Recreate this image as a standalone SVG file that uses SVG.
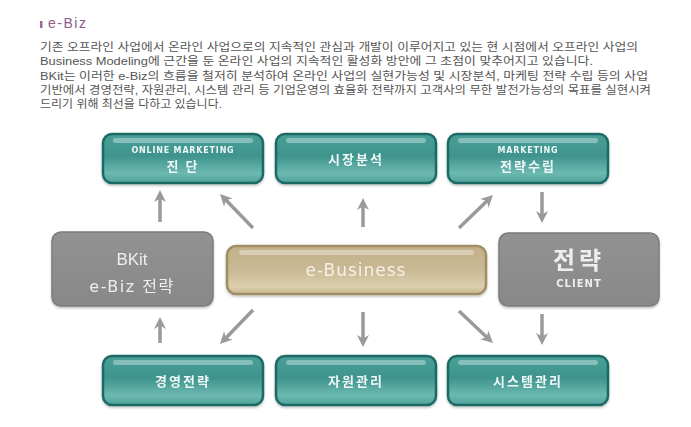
<svg xmlns="http://www.w3.org/2000/svg" width="691" height="427" viewBox="0 0 691 427">
<defs>
<linearGradient id="gTeal" x1="0" y1="0" x2="0" y2="1">
<stop offset="0" stop-color="#4a9f99"/>
<stop offset="0.45" stop-color="#3f948e"/>
<stop offset="0.8" stop-color="#6cb9b1"/>
<stop offset="1" stop-color="#4fa29b"/>
</linearGradient>
<linearGradient id="gBeige" x1="0" y1="0" x2="0" y2="1">
<stop offset="0" stop-color="#c2b18a"/>
<stop offset="0.5" stop-color="#c9b994"/>
<stop offset="0.85" stop-color="#ddd0ae"/>
<stop offset="1" stop-color="#c8b690"/>
</linearGradient>
<linearGradient id="gGray" x1="0" y1="0" x2="0" y2="1">
<stop offset="0" stop-color="#929292"/>
<stop offset="1" stop-color="#888888"/>
</linearGradient>
<marker id="ah" markerUnits="userSpaceOnUse" markerWidth="14" markerHeight="14" refX="6" refY="7" orient="auto">
<path d="M0,1 L12,7 L0,13 L3.5,7 Z" fill="#9a9a9a"/>
</marker>
<filter id="sh" x="-10%" y="-20%" width="120%" height="150%">
<feDropShadow dx="0" dy="1.5" stdDeviation="1.2" flood-color="#000" flood-opacity="0.25"/>
</filter>
</defs>
<style>
.teal{fill:url(#gTeal);stroke:#1e6a66;stroke-width:2.5}
.beige{fill:url(#gBeige);stroke:#a08e66;stroke-width:2.5}
.gray{fill:url(#gGray);stroke:#7c7c7c;stroke-width:1.5}
.hl{fill:#ffffff;opacity:0.35}
.lbl{font-family:"DejaVu Sans","Noto Sans CJK KR",sans-serif;fill:#eef7f6;text-anchor:middle;font-weight:bold}
.kr{font-family:"Noto Sans CJK KR",sans-serif;fill:#eef7f6;text-anchor:middle;font-weight:bold;font-size:13px;letter-spacing:2px}
.body{font-family:"Liberation Sans","Noto Sans CJK KR",sans-serif;font-size:11px;fill:#555555}
.conn line{stroke:#9a9a9a;stroke-width:3.5;marker-end:url(#ah)}
</style>
<rect width="691" height="427" fill="#ffffff"/>
<g id="header">
<rect x="40" y="21" width="2.5" height="7" fill="#9a6a9a"/>
<text x="48" y="28" font-family="Liberation Sans, sans-serif" font-size="14" fill="#8a5c8a" letter-spacing="1.5">e-Biz</text>
</g>
<g id="intro" class="body">
<text x="40" y="51" textLength="598" lengthAdjust="spacingAndGlyphs">기존 오프라인 사업에서 온라인 사업으로의 지속적인 관심과 개발이 이루어지고 있는 현 시점에서 오프라인 사업의</text>
<text x="40" y="65" textLength="553" lengthAdjust="spacingAndGlyphs">Business Modeling에 근간을 둔 온라인 사업의 지속적인 활성화 방안에 그 초점이 맞추어지고 있습니다.</text>
<text x="40" y="80" textLength="608" lengthAdjust="spacingAndGlyphs">BKit는 이러한 e-Biz의 흐름을 철저히 분석하여 온라인 사업의 실현가능성 및 시장분석, 마케팅 전략 수립 등의 사업</text>
<text x="40" y="94" textLength="611" lengthAdjust="spacingAndGlyphs">기반에서 경영전략, 자원관리, 시스템 관리 등 기업운영의 효율화 전략까지 고객사의 무한 발전가능성의 목표를 실현시켜</text>
<text x="40" y="108" textLength="182" lengthAdjust="spacingAndGlyphs">드리기 위해 최선을 다하고 있습니다.</text>
</g>
<g id="connectors" class="conn">
<line x1="160" y1="222" x2="160" y2="196"/>
<line x1="253" y1="228" x2="224.2" y2="198.3"/>
<line x1="363" y1="227" x2="363" y2="204"/>
<line x1="459" y1="228" x2="488.7" y2="199.2"/>
<line x1="542" y1="192" x2="542" y2="217"/>
<line x1="253" y1="310" x2="224.2" y2="339.7"/>
<line x1="363" y1="312" x2="363" y2="341"/>
<line x1="459" y1="311" x2="488.6" y2="338.9"/>
<line x1="542" y1="314" x2="542" y2="339"/>
<line x1="160" y1="343" x2="160" y2="323"/>
</g>
<g id="node-online" filter="url(#sh)">
<rect class="teal" x="103" y="134" width="160" height="49" rx="9"/>
<rect class="hl" x="113" y="138" width="140" height="5" rx="2.5"/>
<text class="lbl" x="183" y="152.5" font-size="8" letter-spacing="0.8">ONLINE MARKETING</text>
<text class="kr" x="183" y="171" font-size="12.5px" letter-spacing="4">진 단</text>
</g>
<g id="node-market" filter="url(#sh)">
<rect class="teal" x="276" y="134" width="160" height="49" rx="9"/>
<rect class="hl" x="286" y="138" width="140" height="5" rx="2.5"/>
<text class="kr" x="356" y="164">시장분석</text>
</g>
<g id="node-mkstrategy" filter="url(#sh)">
<rect class="teal" x="448" y="134" width="160" height="49" rx="9"/>
<rect class="hl" x="458" y="138" width="140" height="5" rx="2.5"/>
<text class="lbl" x="528" y="152.5" font-size="8" letter-spacing="0.8">MARKETING</text>
<text class="kr" x="528" y="171" font-size="12.5px">전략수립</text>
</g>
<g id="node-bkit" filter="url(#sh)">
<rect class="gray" x="52" y="232" width="161" height="74" rx="9"/>
<text x="132" y="265" font-family="Liberation Sans, sans-serif" font-size="17" fill="#eeeeee" text-anchor="middle">BKit</text>
<text x="132" y="292" font-family="DejaVu Sans, 'Noto Sans CJK KR', sans-serif" font-size="16" fill="#eeeeee" text-anchor="middle" letter-spacing="1.5">e-Biz 전략</text>
</g>
<g id="node-ebusiness" filter="url(#sh)">
<rect class="beige" x="227" y="246" width="259" height="48" rx="9"/>
<rect class="hl" x="239" y="250" width="235" height="5" rx="2.5"/>
<text x="356" y="276" font-family="DejaVu Sans, sans-serif" font-size="17" fill="#f5f1e8" text-anchor="middle" letter-spacing="1">e-Business</text>
</g>
<g id="node-client" filter="url(#sh)">
<rect class="gray" x="499" y="233" width="160" height="73" rx="9"/>
<text x="579" y="269" font-family="Noto Sans CJK KR, sans-serif" font-size="24" font-weight="bold" fill="#eeeeee" text-anchor="middle" letter-spacing="4">전략</text>
<text x="579" y="287" font-family="DejaVu Sans, sans-serif" font-size="10" font-weight="bold" fill="#eeeeee" text-anchor="middle" letter-spacing="1">CLIENT</text>
</g>
<g id="node-mgmt" filter="url(#sh)">
<rect class="teal" x="103" y="356" width="160" height="49" rx="9"/>
<rect class="hl" x="113" y="360" width="140" height="5" rx="2.5"/>
<text class="kr" x="183" y="386">경영전략</text>
</g>
<g id="node-resource" filter="url(#sh)">
<rect class="teal" x="276" y="356" width="160" height="49" rx="9"/>
<rect class="hl" x="286" y="360" width="140" height="5" rx="2.5"/>
<text class="kr" x="356" y="386">자원관리</text>
</g>
<g id="node-system" filter="url(#sh)">
<rect class="teal" x="448" y="356" width="160" height="49" rx="9"/>
<rect class="hl" x="458" y="360" width="140" height="5" rx="2.5"/>
<text class="kr" x="528" y="386">시스템관리</text>
</g>
</svg>
